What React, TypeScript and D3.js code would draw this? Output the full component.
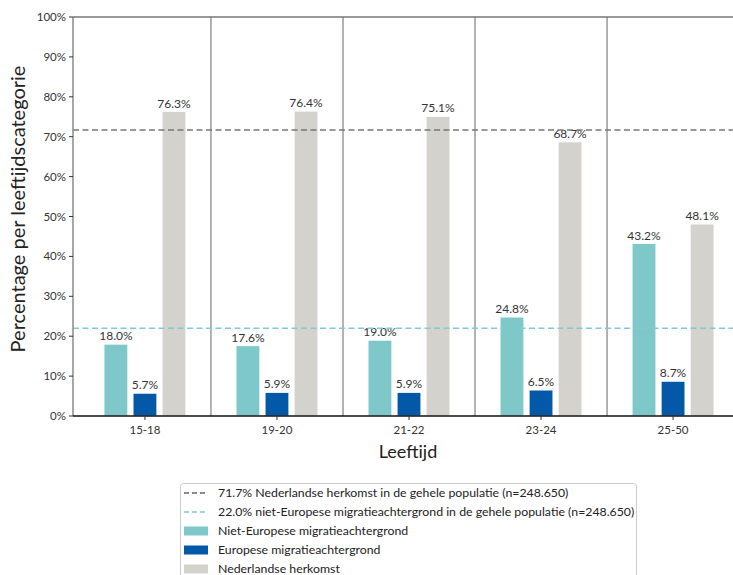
import React from "react";
import * as d3 from "d3";

const categories = ["15-18", "19-20", "21-22", "23-24", "25-50"];
const nietEuropees = [18.0, 17.6, 19.0, 24.8, 43.2];
const europees = [5.7, 5.9, 5.9, 6.5, 8.7];
const nederlands = [76.3, 76.4, 75.1, 68.7, 48.1];
const refNederlands = 71.7;
const refNietEuropees = 22.0;
const yTicks = [0, 10, 20, 30, 40, 50, 60, 70, 80, 90, 100];
const seriesNames = ["Niet-Europese migratieachtergrond", "Europese migratieachtergrond", "Nederlandse herkomst"];
const legendLines = [
  "71.7% Nederlandse herkomst in de gehele populatie (n=248.650)",
  "22.0% niet-Europese migratieachtergrond in de gehele populatie (n=248.650)",
];

const colors = ["#7ec8c9", "#0358a7", "#d3d2cd"];
const font = "Lato, 'Open Sans', sans-serif";

export default function App() {
  const W = 733, H = 575;
  const left = 73, top = 17, bottom = 416, right = 745;
  const x = d3.scaleLinear().domain([-0.545, 4.545]).range([left, right]);
  const y = d3.scaleLinear().domain([0, 100]).range([bottom, top]);
  const bw = 0.18, off = 0.22;
  const series = [nietEuropees, europees, nederlands];
  const bwPx = x(bw) - x(0);

  return (
    <svg width={W} height={H} style={{ position: "absolute", left: 0, top: 0, fontFamily: font }}>
      <rect width={W} height={H} fill="#fff" />
      {categories.slice(0, -1).map((_, i) => (
        <line key={"s" + i} x1={x(i + 0.5)} x2={x(i + 0.5)} y1={top} y2={bottom} stroke="#666" strokeWidth={1} />
      ))}
      {series.map((vals, s) =>
        vals.map((v, i) => {
          const cx = x(i + (s - 1) * off);
          return (
            <g key={`b${s}-${i}`}>
              <rect x={cx - bwPx / 2} y={y(v)} width={bwPx} height={y(0) - y(v)} fill={colors[s]} stroke="#fff" strokeWidth={0.8} />
              <text x={cx} y={y(v) - 4} textAnchor="middle" fontSize={12} fill="#333">{v.toFixed(1)}%</text>
            </g>
          );
        })
      )}
      <line x1={left} x2={right} y1={y(refNederlands)} y2={y(refNederlands)} stroke="#777" strokeWidth={1.5} strokeDasharray="6,3.5" />
      <line x1={left} x2={right} y1={y(refNietEuropees)} y2={y(refNietEuropees)} stroke="#7ecbd2" strokeWidth={1.5} strokeDasharray="6,3.5" />
      <line x1={left} x2={right} y1={top} y2={top} stroke="#777" strokeWidth={1.5} />
      <line x1={left} x2={left} y1={top} y2={bottom} stroke="#888" strokeWidth={1.5} />
      <line x1={left} x2={right} y1={bottom} y2={bottom} stroke="#111" strokeWidth={1.5} />
      {yTicks.map((t) => (
        <g key={"y" + t}>
          <line x1={left - 4} x2={left} y1={y(t)} y2={y(t)} stroke="#333" />
          <text x={left - 7} y={y(t)} dy="0.35em" textAnchor="end" fontSize={11.5} fill="#333">{t}%</text>
        </g>
      ))}
      {categories.map((c, i) => (
        <g key={"x" + c}>
          <line x1={x(i)} x2={x(i)} y1={bottom} y2={bottom + 4} stroke="#333" />
          <text x={x(i)} y={bottom + 18} textAnchor="middle" fontSize={11.5} fill="#333">{c}</text>
        </g>
      ))}
      <text x={(left + 733) / 2 + 5} y={458} textAnchor="middle" fontSize={18} fill="#222">Leeftijd</text>
      <text transform={`translate(25,209) rotate(-90)`} textAnchor="middle" fontSize={20} fill="#222">Percentage per leeftijdscategorie</text>
      <rect x={180.5} y={483.5} width={456} height={100} rx={3} fill="#fff" stroke="#ccc" strokeWidth={1} />
      {legendLines.map((t, i) => (
        <g key={"l" + i}>
          <line x1={184} x2={208} y1={493 + i * 19} y2={493 + i * 19} stroke={i === 0 ? "#666" : "#7ecbd2"} strokeWidth={1.5} strokeDasharray="5,3" />
          <text x={218} y={493 + i * 19} dy="0.35em" fontSize={12.3} fill="#222">{t}</text>
        </g>
      ))}
      {seriesNames.map((t, i) => (
        <g key={"ls" + i}>
          <rect x={184} y={531 + i * 19 - 4.5} width={24} height={9} fill={colors[i]} />
          <text x={218} y={531 + i * 19} dy="0.35em" fontSize={12.3} fill="#222">{t}</text>
        </g>
      ))}
    </svg>
  );
}
